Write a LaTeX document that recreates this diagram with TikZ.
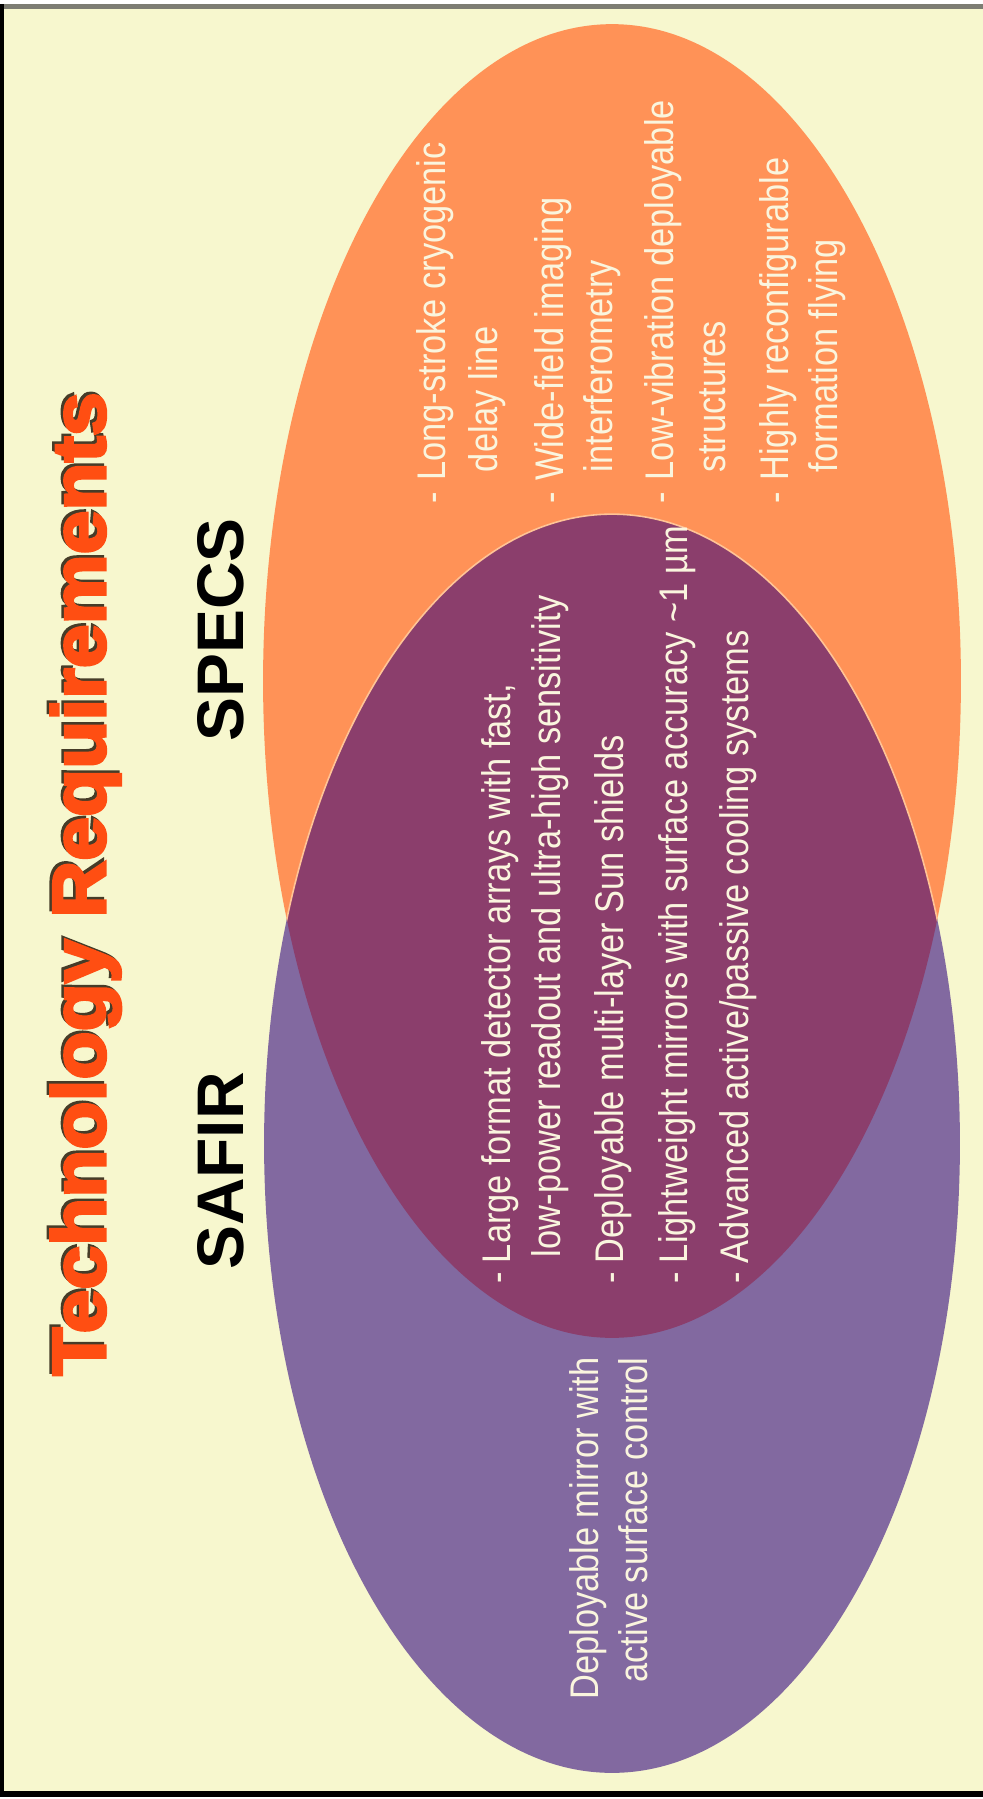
\documentclass[tikz,border=0pt]{standalone}
\usepackage{fontspec}
\setmainfont{Liberation Sans}
\newfontfamily\bodyfont[FakeStretch=0.86]{Liberation Sans}
\newfontface\titlefont[FakeStretch=1.05, FakeBold=4]{Liberation Sans Bold}
\definecolor{bgcream}{RGB}{247,247,206}
\definecolor{specsorange}{RGB}{255,146,87}
\definecolor{safirpurple}{RGB}{130,105,160}
\definecolor{overlapcol}{RGB}{139,62,108}
\definecolor{textcream}{RGB}{250,245,222}
\definecolor{titlered}{RGB}{255,78,18}
\definecolor{shadowdark}{RGB}{70,60,40}
\definecolor{framegray}{RGB}{125,125,115}
\definecolor{rimpeach}{RGB}{255,196,150}
\tikzset{
  bodytext/.style={rotate=90, inner sep=0pt, outer sep=0pt, text=textcream,
    font=\bodyfont\fontsize{22.76pt}{27pt}\selectfont},
  startline/.style={bodytext, anchor=base west},
  endline/.style={bodytext, anchor=base east},
  dashnode/.style={bodytext, anchor=base west},
  setlabel/.style={rotate=90, inner sep=0pt, anchor=base, text=black,
    font=\bfseries\fontsize{37.5pt}{40pt}\selectfont},
  titletext/.style={rotate=90, inner sep=0pt, anchor=base, text=titlered,
    font=\titlefont\fontsize{42.7pt}{48pt}\selectfont},
  titleshadow/.style={titletext, text=shadowdark},
  specsell/.style={x radius=6.98cm, y radius=13.14cm},
  safirell/.style={x radius=6.96cm, y radius=12.59cm}
}
\begin{document}
\begin{tikzpicture}[x=0.02cm, y=-0.02cm]
\useasboundingbox (0,0) rectangle (983,1799);
\fill[white] (0,0) rectangle (983,1799);
\fill[bgcream] (0,9) rectangle (983,1791);
\fill[framegray] (0,4) rectangle (983,9);
\fill[black] (0,4) rectangle (4,1797);
\fill[black] (0,1791) rectangle (983,1797);

% ellipses
\fill[specsorange] (612,681) ellipse [specsell];
\fill[safirpurple] (612,1143.5) ellipse [safirell];
\begin{scope}
  \clip (612,681) ellipse [specsell];
  \fill[overlapcol] (612,1143.5) ellipse [safirell];
  \draw[rimpeach, line width=0.9pt] (612,1143.5) ellipse [safirell];
\end{scope}

% title
\node[titleshadow] (titleshadow) at (102.5,881.5) {Technology Requirements};
\node[titletext] (title) at (105,884) {Technology Requirements};

% set labels
\node[setlabel] (safir) at (243,1171) {SAFIR};
\node[setlabel] (specs) at (243,630) {SPECS};

% SPECS only
\node[dashnode] (s1d) at (445,503.5) {-};
\node[startline] (s1) at (445,480.5) {Long-stroke cryogenic};
\node[startline] (s2) at (497,472) {delay line};
\node[dashnode] (s3d) at (563,503.5) {-};
\node[startline] (s3) at (563,480.5) {Wide-field imaging};
\node[startline] (s4) at (612,472) {interferometry};
\node[dashnode] (s5d) at (673,503.5) {-};
\node[startline] (s5) at (673,480.5) {Low-vibration deployable};
\node[startline] (s6) at (725,472) {structures};
\node[dashnode] (s7d) at (788,503.5) {-};
\node[startline] (s7) at (788,480.5) {Highly reconfigurable};
\node[startline] (s8) at (837,472) {formation flying};

% common
\node[dashnode] (c1d) at (510,1283.5) {-};
\node[startline] (c1) at (510,1263) {Large format detector arrays with fast,};
\node[startline] (c2) at (560,1257) {low-power readout and ultra-high sensitivity};
\node[dashnode] (c3d) at (623,1283.5) {-};
\node[startline] (c3) at (623,1263) {Deployable multi-layer Sun shields};
\node[dashnode] (c4d) at (687,1283.5) {-};
\node[startline] (c4) at (687,1263) {Lightweight mirrors with surface accuracy \textasciitilde1 µm};
\node[dashnode] (c5d) at (748,1283.5) {-};
\node[startline] (c5) at (748,1263) {Advanced active/passive cooling systems};

% SAFIR only
\node[endline] (p1) at (598,1357.5) {Deployable mirror with};
\node[endline] (p2) at (647,1357.5) {active surface control};
\end{tikzpicture}
\end{document}
